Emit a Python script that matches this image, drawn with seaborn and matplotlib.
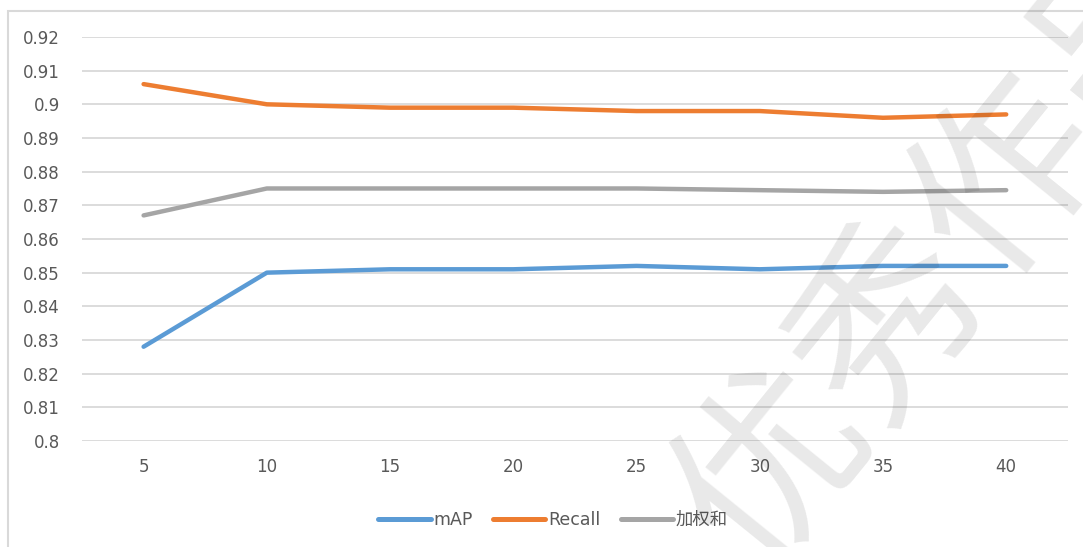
import matplotlib
matplotlib.use("Agg")
import matplotlib.pyplot as plt
from matplotlib.patches import Rectangle
import seaborn as sns
import pandas as pd

# Top-k values on the x axis
k_values = ["5", "10", "15", "20", "25", "30", "35", "40"]
map_scores = [0.828, 0.850, 0.851, 0.851, 0.852, 0.851, 0.852, 0.852]
recall_scores = [0.906, 0.900, 0.899, 0.899, 0.898, 0.898, 0.896, 0.897]
weighted_scores = [0.867, 0.875, 0.875, 0.875, 0.875, 0.8745, 0.874, 0.8745]
series_names = ["mAP", "Recall", "加权和"]
y_ticks = [0.80, 0.81, 0.82, 0.83, 0.84, 0.85, 0.86, 0.87, 0.88, 0.89, 0.90, 0.91, 0.92]
y_tick_labels = ["0.8", "0.81", "0.82", "0.83", "0.84", "0.85", "0.86", "0.87",
                 "0.88", "0.89", "0.9", "0.91", "0.92"]

df = pd.DataFrame({
    "k": k_values * 3,
    "score": map_scores + recall_scores + weighted_scores,
    "series": [series_names[0]] * 8 + [series_names[1]] * 8 + [series_names[2]] * 8,
})

sns.set_theme(style="white")
plt.rcParams["font.family"] = ["DejaVu Sans", "Noto Sans CJK SC"]

fig = plt.figure(figsize=(10.83, 5.47), dpi=100)
ax = fig.add_axes([0.0757, 0.1938, 0.9103, 0.7386])

palette = {"mAP": "#5B9BD5", "Recall": "#ED7D31", "加权和": "#A5A5A5"}
sns.lineplot(data=df, x="k", y="score", hue="series", palette=palette,
             linewidth=3.2, sort=False, ax=ax, legend=True)
for line in ax.lines:
    line.set_solid_capstyle("round")
    line.set_solid_joinstyle("round")

ax.set_xlim(-0.5, 7.5)
ax.set_ylim(0.80, 0.92)
ax.set_yticks(y_ticks)
ax.set_yticklabels(y_tick_labels)
ax.grid(axis="y", color="#D9D9D9", linewidth=1.3)
ax.grid(axis="x", visible=False)
ax.set_axisbelow(True)
for s in ax.spines.values():
    s.set_visible(False)
ax.tick_params(axis="both", length=0, labelsize=12, labelcolor="#595959")
ax.tick_params(axis="y", pad=16)
ax.tick_params(axis="x", pad=12)
ax.set_xlabel("")
ax.set_ylabel("")

leg = ax.legend(loc="center", bbox_to_anchor=(0.478, -0.196), ncol=3, frameon=False,
                fontsize=12.5, handlelength=3.0, handletextpad=0.15,
                columnspacing=1.2, labelcolor="#595959")
for h in leg.get_lines():
    h.set_linewidth(3.6)
    h.set_solid_capstyle("round")

# Chart frame
fig.patches.append(Rectangle((8 / 1083, -0.05), 1.2, 1 - 11 / 547 + 0.05,
                             transform=fig.transFigure, fill=False,
                             edgecolor="#D9D9D9", linewidth=1.5))

# Diagonal watermark
fig.text(950 / 1083, 1 - 250 / 547, "优秀作品", family="Noto Sans CJK SC",
         fontsize=135, color="black", alpha=0.09, rotation=51,
         ha="center", va="center", zorder=10)

fig.savefig("out.png", dpi=100)
